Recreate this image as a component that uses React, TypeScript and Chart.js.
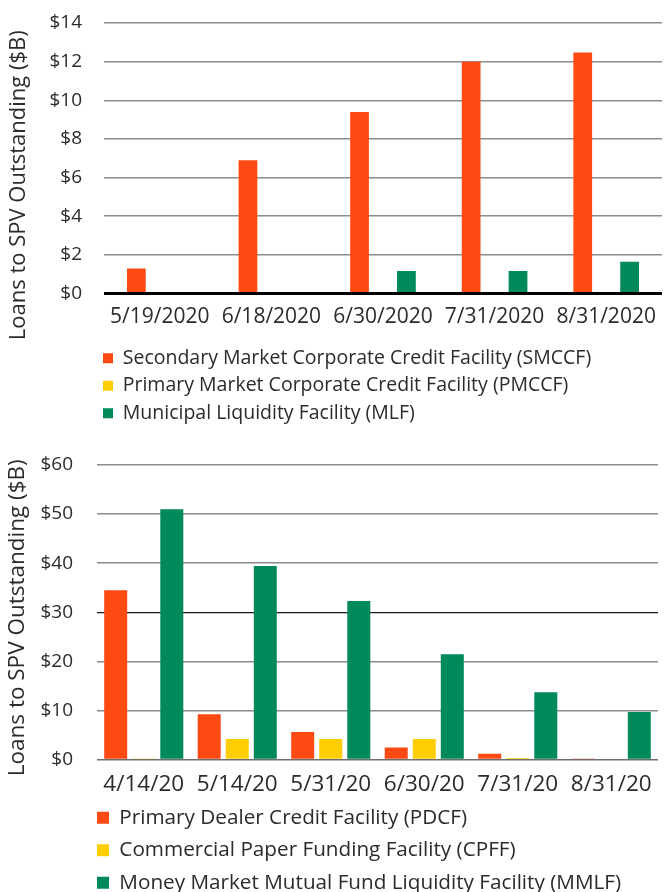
import React, { useEffect, useRef } from 'react';
import { Chart, registerables } from 'chart.js';

Chart.register(...registerables);

// ---------- Data: top chart ----------
const topDates = ['5/19/2020', '6/18/2020', '6/30/2020', '7/31/2020', '8/31/2020'];
const smccfValues = [1.3, 6.9, 9.4, 12.0, 12.47];
const pmccfValues = [0, 0, 0, 0, 0];
const mlfValues = [0, 0, 1.17, 1.17, 1.64];
const topYMax = 14;
const topYStep = 2;

// ---------- Data: bottom chart ----------
const bottomDates = ['4/14/20', '5/14/20', '5/31/20', '6/30/20', '7/31/20', '8/31/20'];
const pdcfValues = [34.5, 9.2, 5.6, 2.45, 1.15, 0.2];
const cpffValues = [0.2, 4.2, 4.2, 4.2, 0.3, 0];
const mmlfValues = [51.0, 39.4, 32.3, 21.45, 13.7, 9.66];
const bottomYMax = 60;
const bottomYStep = 10;

const yTitle = 'Loans to SPV Outstanding ($B)';
const topLabels = [
  'Secondary Market Corporate Credit Facility (SMCCF)',
  'Primary Market Corporate Credit Facility (PMCCF)',
  'Municipal Liquidity Facility (MLF)',
];
const bottomLabels = [
  'Primary Dealer Credit Facility (PDCF)',
  'Commercial Paper Funding Facility (CPFF)',
  'Money Market Mutual Fund Liquidity Facility (MMLF)',
];

const ORANGE = '#FF4A14';
const YELLOW = '#FFCE00';
const GREEN = '#008A5C';
const GRID = '#8c8c8c';
const TEXT = '#2b2b2b';
const FONT = "'Open Sans', sans-serif";

function layoutTweaks(boxX: number, pad: number, titleShift: number) {
  return {
    id: 'layoutTweaks',
    afterLayout(chart: any) {
      if (chart.legend) {
        const w = chart.legend.right - chart.legend.left;
        chart.legend.left = boxX - pad;
        chart.legend.right = chart.legend.left + w;
      }
      const y = chart.scales.y;
      if (y) {
        // only affects where the rotated axis title is centred
        y.top += titleShift;
        y.bottom += titleShift;
      }
    },
  };
}

type Cfg = {
  labels: string[];
  series: { label: string; data: number[]; color: string }[];
  yMax: number;
  yStep: number;
  axisWidth: number;
  xAxisHeight: number;
  padTop: number;
  padRight: number;
  catPct: number;
  barPct: number;
  tickFont: number;
  xFont: number;
  titleFont: number;
  titlePad: number;
  tickGap: number;
  xPad: number;
  legendFont: number;
  legendBox: number;
  legendPad: number;
  legendBoxX: number;
  titleShift: number;
  zeroColor: string;
  zeroWidth: number;
  darkValue: number | null;
};

function makeChart(canvas: HTMLCanvasElement, c: Cfg) {
  return new Chart(canvas, {
    type: 'bar',
    data: {
      labels: c.labels,
      datasets: c.series.map((s) => ({
        label: s.label,
        data: s.data,
        backgroundColor: s.color,
        borderWidth: 0,
        categoryPercentage: c.catPct,
        barPercentage: c.barPct,
      })),
    },
    options: {
      responsive: false,
      animation: false,
      devicePixelRatio: 1,
      layout: { padding: { top: c.padTop, right: c.padRight, left: 0, bottom: 0 } },
      plugins: {
        tooltip: { enabled: false },
        legend: {
          position: 'bottom',
          align: 'start',
          labels: {
            boxWidth: c.legendBox,
            boxHeight: c.legendBox,
            padding: c.legendPad,
            color: TEXT,
            font: { family: FONT, size: c.legendFont },
          },
        },
      },
      scales: {
        x: {
          grid: { display: false, drawTicks: false },
          border: { display: false },
          ticks: {
            color: TEXT,
            padding: c.xPad,
            font: { family: FONT, size: c.xFont },
            maxRotation: 0,
            autoSkip: false,
          },
          afterFit: (s: any) => {
            s.height = c.xAxisHeight;
          },
        },
        y: {
          min: 0,
          max: c.yMax,
          border: { display: false },
          grid: {
            drawTicks: true,
            tickLength: c.tickGap,
            tickColor: 'rgba(0,0,0,0)',
            color: (ctx: any) => {
              const v = ctx.tick ? ctx.tick.value : null;
              if (v === 0) return c.zeroColor;
              if (c.darkValue !== null && v === c.darkValue) return '#1a1a1a';
              return GRID;
            },
            lineWidth: (ctx: any) => {
              const v = ctx.tick ? ctx.tick.value : null;
              if (v === 0) return c.zeroWidth;
              if (c.darkValue !== null && v === c.darkValue) return 1.2;
              return 1.5;
            },
          },
          ticks: {
            stepSize: c.yStep,
            color: TEXT,
            padding: 2,
            font: { family: FONT, size: c.tickFont },
            callback: (v: any) => '$' + v,
          },
          title: {
            display: true,
            text: yTitle,
            color: TEXT,
            padding: { top: c.titlePad, bottom: 0 },
            font: { family: FONT, size: c.titleFont },
          },
          afterFit: (s: any) => {
            s.width = c.axisWidth;
          },
        },
      },
    },
    plugins: [layoutTweaks(c.legendBoxX, c.legendPad, c.titleShift)],
  } as any);
}

export default function App() {
  const topRef = useRef<HTMLCanvasElement>(null);
  const botRef = useRef<HTMLCanvasElement>(null);

  useEffect(() => {
    const top = makeChart(topRef.current!, {
      labels: topDates,
      series: [
        { label: topLabels[0], data: smccfValues, color: ORANGE },
        { label: topLabels[1], data: pmccfValues, color: YELLOW },
        { label: topLabels[2], data: mlfValues, color: GREEN },
      ],
      yMax: topYMax,
      yStep: topYStep,
      axisWidth: 104,
      xAxisHeight: 47,
      padTop: 23,
      padRight: 1,
      catPct: 0.63,
      barPct: 0.8,
      tickFont: 19,
      xFont: 21,
      titleFont: 22,
      titlePad: 6,
      tickGap: 20,
      xPad: 11,
      legendFont: 19.5,
      legendBox: 10,
      legendPad: 8,
      legendBoxX: 103,
      titleShift: 27,
      zeroColor: '#000000',
      zeroWidth: 3,
      darkValue: null,
    });
    const bot = makeChart(botRef.current!, {
      labels: bottomDates,
      series: [
        { label: bottomLabels[0], data: pdcfValues, color: ORANGE },
        { label: bottomLabels[1], data: cpffValues, color: YELLOW },
        { label: bottomLabels[2], data: mmlfValues, color: GREEN },
      ],
      yMax: bottomYMax,
      yStep: bottomYStep,
      axisWidth: 97,
      xAxisHeight: 36,
      padTop: 32,
      padRight: 9,
      catPct: 0.9,
      barPct: 0.82,
      tickFont: 19,
      xFont: 22.5,
      titleFont: 22.5,
      titlePad: 4,
      tickGap: 22,
      xPad: 12,
      legendFont: 20.7,
      legendBox: 12,
      legendPad: 11.8,
      legendBoxX: 97,
      titleShift: 5.5,
      zeroColor: '#6e6e6e',
      zeroWidth: 1.5,
      darkValue: 30,
    });
    return () => {
      top.destroy();
      bot.destroy();
    };
  }, []);

  return (
    <div
      style={{
        position: 'absolute',
        left: 0,
        top: 0,
        width: 667,
        height: 892,
        overflow: 'hidden',
        background: '#ffffff',
      }}
    >
      <canvas ref={topRef} width={667} height={433} style={{ display: 'block' }} />
      <canvas ref={botRef} width={667} height={470} style={{ display: 'block' }} />
    </div>
  );
}
